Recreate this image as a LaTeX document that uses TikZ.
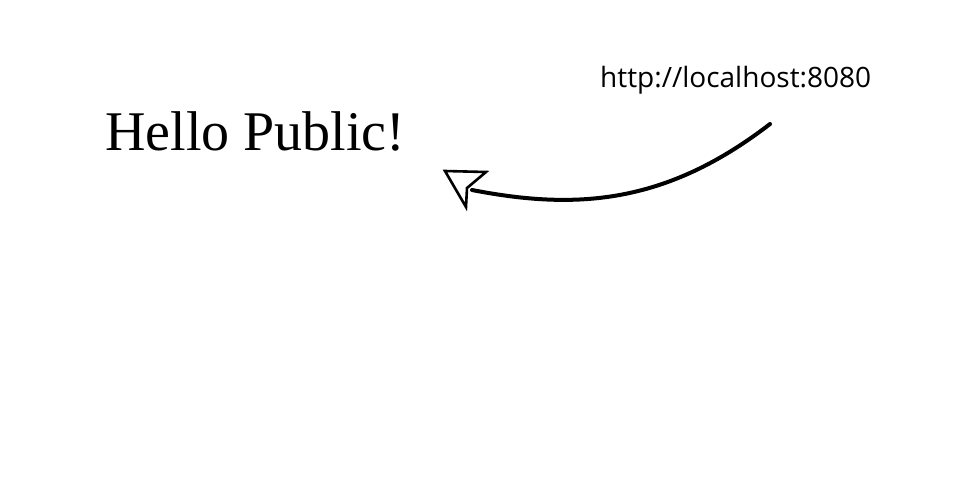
\documentclass[tikz,border=0pt]{standalone}
\usepackage{fontspec}
\setmainfont{Liberation Serif}
\newfontfamily\urlfont{Open Sans}
\begin{document}
\begin{tikzpicture}[x=1pt,y=-1pt,
  hello/.style={inner sep=0pt,anchor=base west,font=\fontsize{56}{60}\selectfont},
  urltext/.style={inner sep=0pt,anchor=base west,font=\urlfont\fontsize{28}{32}\selectfont},
  sketch/.style={line width=4pt,line cap=round,line join=round},
  headline/.style={line width=2.6pt,line join=miter}]
\useasboundingbox[fill=white] (0,0) rectangle (973,501);
\node[hello] (hello) at (105,150) {Hello Public!};
\node[urltext] (url) at (600,87) {http://localhost:8080};
\coordinate (start) at (770,124);
\coordinate (end) at (472,190);
\draw[sketch] (start) .. controls (665,205) and (575,210) .. (end);
\coordinate (tip) at (445,171);
\coordinate (wingA) at (486,172);
\coordinate (notch) at (467,188);
\coordinate (wingB) at (466,207);
\draw[headline] (tip) -- (wingA) -- (notch) -- (wingB) -- cycle;
\end{tikzpicture}
\end{document}
